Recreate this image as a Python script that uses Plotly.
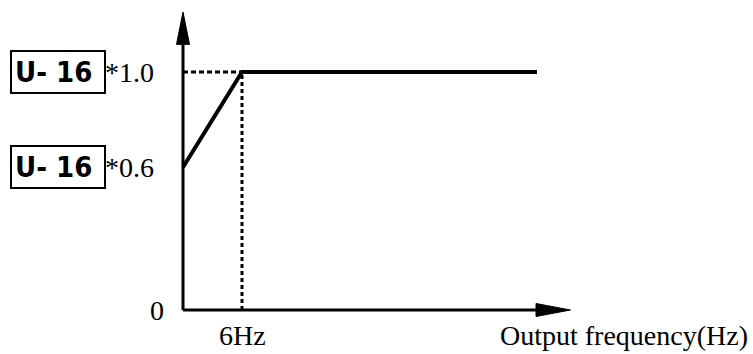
import plotly.graph_objects as go

# V/F curve: output voltage ratio vs output frequency
freq_hz = [0, 6, 36]
volt_ratio = [0.6, 1.0, 1.0]
knee_freq = 6
tick_labels_y = ["*1.0", "*0.6"]
tick_values_y = [1.0, 0.6]
param_name = "U- 16"

W, H = 753, 354
# axis geometry (data units)
x_end, x_tip = 36.0, 39.4
y_end, y_tip = 1.126, 1.252
px_per_hz = 59 / 6.0
px_per_unit = 238.0
ox, oy = 183, 310

x_range = [-ox / px_per_hz, (W - ox) / px_per_hz]
y_range = [-(H - oy) / px_per_unit, oy / px_per_unit]

fig = go.Figure()

# axes lines
fig.add_trace(go.Scatter(x=[0, 0], y=[0, y_end], mode="lines",
                         line=dict(color="black", width=3), hoverinfo="skip"))
fig.add_trace(go.Scatter(x=[0, x_end], y=[0, 0], mode="lines",
                         line=dict(color="black", width=3), hoverinfo="skip"))
# arrowheads
hw_y = 6.5 / px_per_hz
fig.add_trace(go.Scatter(x=[-hw_y, hw_y, 0, -hw_y], y=[y_end - 0.01, y_end - 0.01, y_tip, y_end - 0.01],
                         mode="lines", fill="toself", fillcolor="black",
                         line=dict(color="black", width=1), hoverinfo="skip"))
hw_x = 6.5 / px_per_unit
fig.add_trace(go.Scatter(x=[x_end - 0.1, x_end - 0.1, x_tip, x_end - 0.1], y=[-hw_x, hw_x, 0, -hw_x],
                         mode="lines", fill="toself", fillcolor="black",
                         line=dict(color="black", width=1), hoverinfo="skip"))

# dotted guides at the knee
fig.add_trace(go.Scatter(x=[0, knee_freq], y=[volt_ratio[1], volt_ratio[1]], mode="lines",
                         line=dict(color="black", width=3, dash="5px,3px"), hoverinfo="skip"))
fig.add_trace(go.Scatter(x=[knee_freq, knee_freq], y=[0, volt_ratio[1]], mode="lines",
                         line=dict(color="black", width=3, dash="4px,3px"), hoverinfo="skip"))

# the curve
fig.add_trace(go.Scatter(x=freq_hz, y=volt_ratio, mode="lines",
                         line=dict(color="black", width=4), hoverinfo="skip"))

serif = dict(family="Liberation Serif", size=28, color="black")
ann = []
for lab, val in zip(tick_labels_y, tick_values_y):
    ann.append(dict(x=-80 / px_per_hz, y=val, text=lab, showarrow=False, xanchor="left",
                    yanchor="middle", font=serif))
    ann.append(dict(x=-125 / px_per_hz, y=val, text="<b>" + param_name + "</b>&nbsp;", showarrow=False,
                    xanchor="center", yanchor="middle",
                    font=dict(family="DejaVu Sans Condensed", size=29, color="black"),
                    bordercolor="black", borderwidth=2, borderpad=3))
ann.append(dict(x=-26 / px_per_hz, y=0, text="0", showarrow=False, font=serif,
                xanchor="center", yanchor="middle"))
ann.append(dict(x=knee_freq, y=-25 / px_per_unit, text="6Hz", showarrow=False, font=serif,
                xanchor="center", yanchor="middle"))
ann.append(dict(x=(750 - ox) / px_per_hz, y=-25 / px_per_unit, text="Output frequency(Hz)",
                showarrow=False, font=serif, xanchor="right", yanchor="middle"))

fig.update_layout(
    width=W, height=H, margin=dict(l=0, r=0, t=0, b=0),
    paper_bgcolor="white", plot_bgcolor="white", showlegend=False,
    xaxis=dict(range=x_range, visible=False, fixedrange=True),
    yaxis=dict(range=y_range, visible=False, fixedrange=True),
    annotations=ann,
)
fig.write_html("out.html")
